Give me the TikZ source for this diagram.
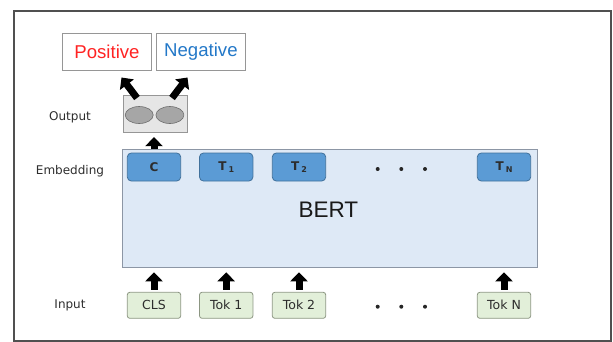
\documentclass[tikz,border=0pt]{standalone}
\usepackage{fontspec}
\setmainfont{DejaVu Sans}
\newfontfamily\arialfont{Liberation Sans}
\usetikzlibrary{arrows.meta,shapes.geometric}

\definecolor{cFrame}{RGB}{80,80,80}
\definecolor{cBertFill}{RGB}{222,233,246}
\definecolor{cBertLine}{RGB}{140,150,165}
\definecolor{cEmbFill}{RGB}{91,155,213}
\definecolor{cEmbLine}{RGB}{65,113,156}
\definecolor{cInFill}{RGB}{226,239,217}
\definecolor{cInLine}{RGB}{140,150,130}
\definecolor{cOutFill}{RGB}{230,230,230}
\definecolor{cOutLine}{RGB}{150,150,150}
\definecolor{cOvalFill}{RGB}{166,166,166}
\definecolor{cOvalLine}{RGB}{110,110,110}
\definecolor{cPos}{RGB}{255,35,35}
\definecolor{cNeg}{RGB}{35,120,200}
\definecolor{cText}{RGB}{45,45,45}

\newcommand{\subtok}[1]{\kern2pt\raisebox{-2.5pt}{\fontsize{8}{9}\selectfont #1}}

\begin{document}
\begin{tikzpicture}[x=1pt,y=-1pt,
  lbl/.style={font=\fontsize{12}{14}\selectfont, text=cText, anchor=base, inner sep=0pt},
  embbox/.style={draw=cEmbLine, fill=cEmbFill, rounded corners=4pt,
    minimum width=53.4pt, minimum height=28pt, inner sep=0pt, line width=0.8pt,
    font=\bfseries\fontsize{12}{14}\selectfont, text=cText},
  inbox/.style={draw=cInLine, fill=cInFill, rounded corners=2.5pt,
    minimum width=53.4pt, minimum height=26pt, inner sep=0pt, line width=0.8pt,
    font=\fontsize{12.5}{15}\selectfont, text=cText},
  classbox/.style={draw=cOutLine, fill=white, minimum width=89.5pt,
    minimum height=36.7pt, inner sep=0pt, line width=0.8pt,
    font=\arialfont\fontsize{18.6}{20}\selectfont},
  oval/.style={ellipse, draw=cOvalLine, fill=cOvalFill, line width=0.6pt,
    minimum width=28pt, minimum height=17pt, inner sep=0pt},
  edot/.style={circle, fill=black!85, inner sep=0pt, minimum size=4pt},
  blockarrow/.style={line width=7pt, -{Triangle[length=9pt,width=17pt]}},
  ]
\useasboundingbox (0,0) rectangle (613,341);

% outer frame
\node[draw=cFrame, line width=1.5pt, minimum width=597pt, minimum height=330pt,
      inner sep=0pt, anchor=north west] (frame) at (13,10) {};

% BERT body
\node[draw=cBertLine, fill=cBertFill, line width=0.8pt, minimum width=415pt,
      minimum height=117.4pt, inner sep=0pt, anchor=north west] (bert) at (121.7,149.3) {};
\node[font=\arialfont\fontsize{22.5}{24}\selectfont, text=black!90] (berttxt) at (328.4,209.4) {BERT};

% row labels
\node[lbl] (lout) at (70,120.7) {Output};
\node[lbl] (lemb) at (70,174) {Embedding};
\node[lbl] (lin) at (70,308) {Input};

% embedding tokens
\node[embbox] (c)  at (154,167) {C};
\node[embbox] (t1) at (226.2,167) {T\subtok{1}};
\node[embbox] (t2) at (299,167) {T\subtok{2}};
\node[embbox] (tn) at (504,167) {T\subtok{N}};
\node[edot] (ed1) at (377.7,169) {};
\node[edot] (ed2) at (401.3,169) {};
\node[edot] (ed3) at (425,169) {};

% input tokens
\node[inbox] (cls)  at (154,305.3) {CLS};
\node[inbox] (tok1) at (226.2,305.3) {Tok 1};
\node[inbox] (tok2) at (299,305.3) {Tok 2};
\node[inbox] (tokn) at (504,305.3) {Tok N};
\node[edot] (id1) at (377.7,306.7) {};
\node[edot] (id2) at (401.3,306.7) {};
\node[edot] (id3) at (425,306.7) {};

% classifier head
\node[draw=cOutLine, fill=cOutFill, line width=0.8pt, minimum width=64.6pt,
      minimum height=36.6pt, inner sep=0pt, anchor=north west] (outbox) at (122.6,95.1) {};
\node[oval] (o1) at (139.2,115) {};
\node[oval] (o2) at (169.9,115) {};

% class labels
\node[classbox, text=cPos] (pos) at (107,51.7) {Positive};
\node[classbox, text=cNeg] (neg) at (200.9,51.7) {Negative};

% arrows: inputs into BERT
\foreach \t in {cls,tok1,tok2,tokn}
  \draw[blockarrow, shorten <=2pt, shorten >=4.8pt] (\t.north) -- (\t.north |- bert.south);

% arrow: C into classifier
\draw[blockarrow, shorten >=4.6pt] (c.north |- bert.north) -- (c.north |- outbox.south);

% arrows: classifier to classes
\coordinate (posTail) at (137,98);
\coordinate (posTip) at (121.5,77.5);
\coordinate (negTail) at (172,98);
\coordinate (negTip) at (187.5,77.5);
\draw[blockarrow] (posTail) -- (posTip);
\draw[blockarrow] (negTail) -- (negTip);
\end{tikzpicture}
\end{document}
